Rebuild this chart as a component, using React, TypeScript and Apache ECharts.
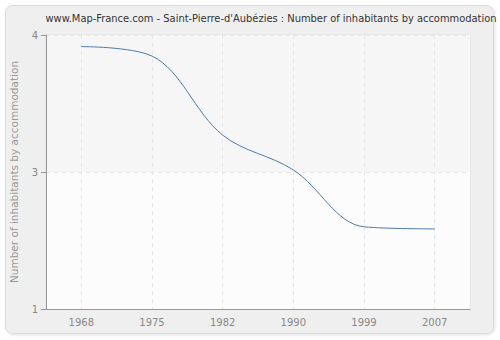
import React, { useEffect, useRef } from "react";
import * as echarts from "echarts";

const titleText = "www.Map-France.com - Saint-Pierre-d'Aubézies : Number of inhabitants by accommodation";
const yAxisName = "Number of inhabitants by accommodation";
const years = ["1968", "1975", "1982", "1990", "1999", "2007"];
const inhabitantsPerHome = [3.79, 3.7, 2.95, 2.62, 2.08, 2.06];
const yMin = 1.3;
const yMax = 3.9;
const yStep = 1.3;

export default function App() {
  const ref = useRef<HTMLDivElement>(null);
  useEffect(() => {
    if (!ref.current) return;
    const chart = echarts.init(ref.current, null, { renderer: "svg" });
    const font = "DejaVu Sans";
    chart.setOption({
      animation: false,
      backgroundColor: "#ffffff",
      graphic: [
        {
          type: "rect",
          z: -10,
          silent: true,
          shape: { x: 5.5, y: 5.5, width: 488, height: 328, r: 7 },
          style: { fill: "#efefef", stroke: "#dcdcdc", lineWidth: 1, shadowBlur: 3, shadowColor: "rgba(0,0,0,0.12)", shadowOffsetX: 1, shadowOffsetY: 1 },
        },
      ],
      title: {
        text: titleText,
        left: 266,
        top: 8,
        textAlign: "center",
        textStyle: { fontFamily: "DejaVu Sans Condensed, DejaVu Sans", fontSize: 11, fontWeight: "normal", color: "#333" },
      },
      grid: {
        left: 41,
        right: 30,
        top: 35,
        bottom: 31,
        show: true,
        backgroundColor: "#ffffff",
        borderColor: "#e2e2e2",
        borderWidth: 1,
      },
      xAxis: {
        type: "category",
        data: years,
        boundaryGap: true,
        axisLine: { lineStyle: { color: "#999" } },
        axisTick: { alignWithLabel: true, length: 5, lineStyle: { color: "#999" } },
        axisLabel: { fontFamily: font, fontSize: 10, color: "#888", margin: 8 },
        splitLine: { show: true, alignWithLabel: true, lineStyle: { color: "#e6e6e6", type: [4, 4] } } as any,
      },
      yAxis: {
        type: "value",
        min: yMin,
        max: yMax,
        interval: yStep,
        name: yAxisName,
        nameLocation: "middle",
        nameGap: 27,
        nameTextStyle: { fontFamily: font, fontSize: 10.5, color: "#999" },
        axisLine: { show: true, lineStyle: { color: "#999" } },
        axisTick: { show: true, length: 5, lineStyle: { color: "#999" } },
        axisLabel: { fontFamily: font, fontSize: 10, color: "#888", margin: 8, formatter: (v: number) => String(Math.round(v)) },
        splitLine: { show: true, lineStyle: { color: "#e6e6e6", type: [4, 4] } },
        splitArea: { show: true, areaStyle: { color: ["#fcfcfc", "#f6f6f6"] } },
      },
      series: [
        {
          type: "line",
          data: inhabitantsPerHome,
          smooth: 0.35,
          showSymbol: false,
          lineStyle: { color: "#4f79aa", width: 1 },
        },
      ],
    });
    return () => chart.dispose();
  }, []);
  return <div ref={ref} style={{ position: "fixed", left: 0, top: 0, width: 500, height: 340 }} />;
}
